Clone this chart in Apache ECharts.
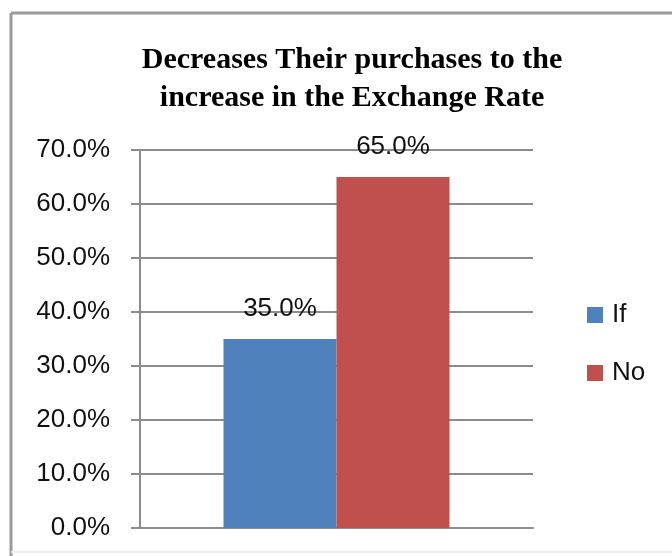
<!DOCTYPE html>
<html>
	<head>
		<meta charset="utf-8">
		<title></title>
		<script src="https://cdn.jsdelivr.net/npm/echarts@6/dist/echarts.min.js"></script>
		<style>
			html, body { margin: 0; padding: 0; background: #fff; }
			#main { width: 672px; height: 556px; }
		</style>
	</head>
	<body>
		<div id="main"></div>
		<script>
			// 数据
			var titleText = 'Decreases Their purchases to the\nincrease in the Exchange Rate'
			var categories = ['']
			var seriesNames = ['If', 'No']
			var ifValues = [35.0]
			var noValues = [65.0]
			var yTicks = [0, 10, 20, 30, 40, 50, 60, 70]

			var colors = ['#4F81BD', '#C0504D']
			var labelFont = 'Liberation Sans'

			var myChart = echarts.init(document.getElementById('main'))

			function barSeries(name, data, color) {
				return {
					name: name,
					type: 'bar',
					data: data,
					barWidth: 113,
					barGap: '0%',
					itemStyle: { color: color },
					label: {
						show: true,
						position: 'top',
						distance: 17,
						fontFamily: labelFont,
						fontSize: 26,
						color: '#111',
						formatter: function (p) { return p.value.toFixed(1) + '%' }
					}
				}
			}

			var option = {
				animation: false,
				backgroundColor: '#fff',
				title: {
					text: titleText,
					left: 347,
					textAlign: 'center',
					top: 36,
					textStyle: {
						fontFamily: 'Liberation Serif',
						fontWeight: 'bold',
						fontSize: 30,
						lineHeight: 38,
						color: '#000'
					}
				},
				legend: {
					orient: 'vertical',
					left: 582,
					top: 297,
					itemWidth: 16,
					itemHeight: 16,
					itemGap: 32,
					icon: 'rect',
					textStyle: { fontFamily: labelFont, fontSize: 26, color: '#111', padding: [0, 0, 0, 4] },
					data: seriesNames
				},
				grid: { left: 140, right: 139, top: 150, bottom: 28 },
				xAxis: {
					type: 'category',
					data: categories,
					axisLine: { lineStyle: { color: '#8c8c8c', width: 2 } },
					axisTick: { show: false },
					axisLabel: { show: false }
				},
				yAxis: {
					type: 'value',
					min: yTicks[0],
					max: yTicks[yTicks.length - 1],
					interval: 10,
					axisLine: { show: true, lineStyle: { color: '#8c8c8c', width: 2 } },
					axisTick: { show: true, length: 9, lineStyle: { color: '#8c8c8c', width: 2 } },
					splitLine: { lineStyle: { color: '#8c8c8c', width: 2 } },
					axisLabel: {
						margin: 30,
						fontFamily: labelFont,
						fontSize: 26,
						color: '#111',
						formatter: function (v) { return v.toFixed(1) + '%' }
					}
				},
				series: [
					barSeries(seriesNames[0], ifValues, colors[0]),
					barSeries(seriesNames[1], noValues, colors[1])
				],
				graphic: [
					// 外框
					{ type: 'line', shape: { x1: 11, y1: 13, x2: 672, y2: 13 }, style: { stroke: '#9a9a9a', lineWidth: 3 } },
					{ type: 'line', shape: { x1: 11, y1: 13, x2: 11, y2: 556 }, style: { stroke: '#9a9a9a', lineWidth: 3 } },
					{ type: 'line', shape: { x1: 11, y1: 552, x2: 672, y2: 552 }, style: { stroke: '#ececec', lineWidth: 2 } }
				]
			}
			myChart.setOption(option)
		</script>
	</body>
</html>
